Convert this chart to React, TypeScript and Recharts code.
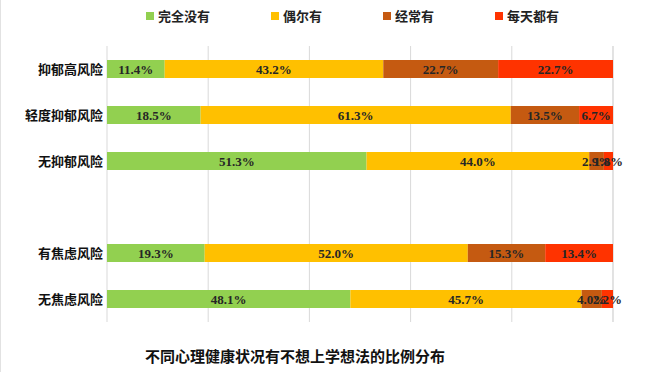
import { BarChart, Bar, XAxis, YAxis, CartesianGrid, LabelList } from "recharts";

const categories = ["抑郁高风险", "轻度抑郁风险", "无抑郁风险", "", "有焦虑风险", "无焦虑风险"];
const neverValues = [11.4, 18.5, 51.3, null, 19.3, 48.1];
const sometimesValues = [43.2, 61.3, 44.0, null, 52.0, 45.7];
const oftenValues = [22.7, 13.5, 2.9, null, 15.3, 4.0];
const alwaysValues = [22.7, 6.7, 1.8, null, 13.4, 2.2];
const xTicks = [0, 20, 40, 60, 80, 100];

const series = [
  { key: "never", name: "完全没有", color: "#92D050", values: neverValues },
  { key: "sometimes", name: "偶尔有", color: "#FFC000", values: sometimesValues },
  { key: "often", name: "经常有", color: "#C55A11", values: oftenValues },
  { key: "always", name: "每天都有", color: "#FF3300", values: alwaysValues },
];

const data = categories.map((name, i) => {
  const row: Record<string, string | number | null> = { name };
  series.forEach((s) => {
    row[s.key] = s.values[i];
  });
  return row;
});

const cjk = '"Noto Sans CJK SC", "Noto Sans", sans-serif';

export default function App() {
  return (
    <div
      style={{
        position: "absolute",
        left: 0,
        top: 0,
        width: 669,
        height: 391,
        background: "#fff",
        fontFamily: cjk,
      }}
    >
      <div style={{ position: "absolute", left: 0, top: 0, width: 1, height: 372, background: "#e2e2e2" }} />
      <div
        style={{
          position: "absolute",
          left: 146,
          top: 7,
          display: "flex",
          gap: 61,
          fontSize: 13,
          fontWeight: 700,
          color: "#222",
          lineHeight: "18px",
        }}
      >
        {series.map((s) => (
          <div key={s.key} style={{ display: "flex", alignItems: "center" }}>
            <div style={{ width: 8, height: 8, background: s.color, marginRight: 4 }} />
            <span>{s.name}</span>
          </div>
        ))}
      </div>
      <BarChart
        width={669}
        height={391}
        data={data}
        layout="vertical"
        barSize={18}
        margin={{ top: 46, right: 56, bottom: 69, left: 0 }}
      >
        <CartesianGrid horizontal={false} stroke="#d9d9d9" />
        <XAxis type="number" domain={[0, 100]} ticks={xTicks} hide />
        <YAxis
          type="category"
          dataKey="name"
          width={107}
          axisLine={false}
          tickLine={false}
          tickSize={0}
          tickMargin={4}
          tick={{ fill: "#111", fontSize: 13, fontWeight: 700, fontFamily: cjk }}
        />
        {series.map((s) => (
          <Bar key={s.key} dataKey={s.key} name={s.name} stackId="a" fill={s.color} isAnimationActive={false}>
            <LabelList
              dataKey={s.key}
              position="center"
              formatter={(v: number) => (v == null ? "" : `${v.toFixed(1)}%`)}
              style={{
                fill: "#262626",
                fontSize: 13,
                fontWeight: 700,
                fontFamily: '"Liberation Serif", "DejaVu Serif", serif',
              }}
            />
          </Bar>
        ))}
      </BarChart>
      <div
        style={{
          position: "absolute",
          left: 145,
          top: 345,
          fontSize: 15,
          fontWeight: 700,
          color: "#111",
          whiteSpace: "nowrap",
        }}
      >
        不同心理健康状况有不想上学想法的比例分布
      </div>
    </div>
  );
}
